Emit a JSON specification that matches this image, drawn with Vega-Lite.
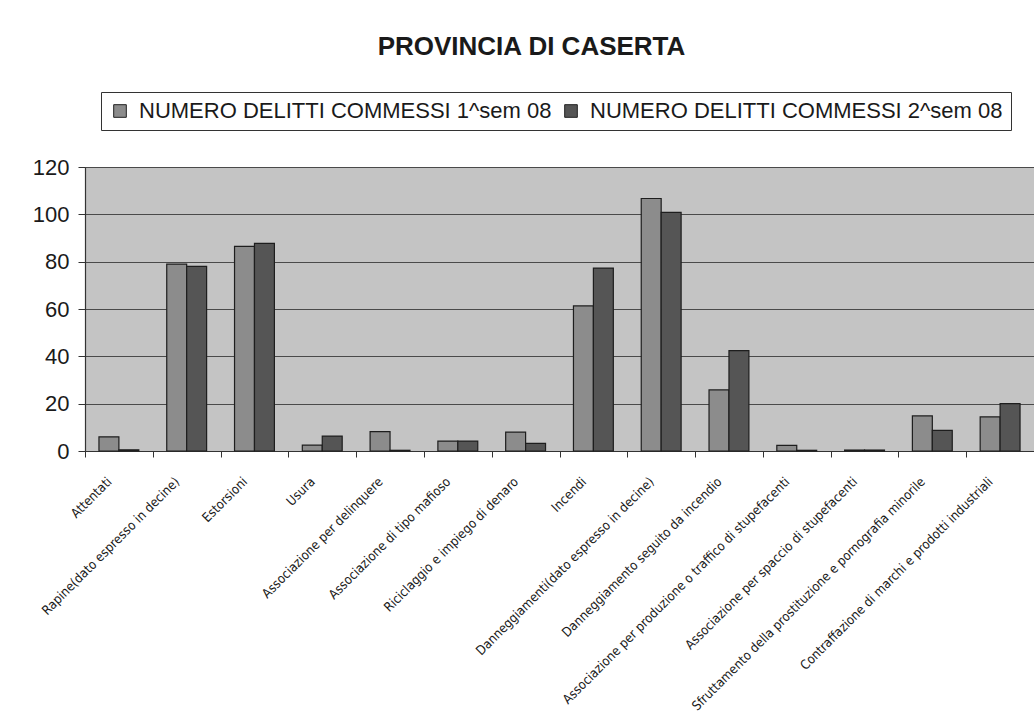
{
  "$schema": "https://vega.github.io/schema/vega-lite/v6.json",
  "autosize": "none",
  "width": 949,
  "height": 284,
  "padding": {"left": 85, "top": 167, "right": 0, "bottom": 273},
  "background": "white",
  "title": {
    "text": "PROVINCIA DI CASERTA",
    "font": "Liberation Sans",
    "fontSize": 26,
    "fontWeight": "bold",
    "color": "#1a1a1a",
    "anchor": "middle",
    "frame": "group",
    "dx": -28,
    "offset": 32
  },
  "data": {
    "values": [
      {"reato": "Attentati", "serie": "NUMERO DELITTI COMMESSI 1^sem 08", "valore": 6},
      {"reato": "Attentati", "serie": "NUMERO DELITTI COMMESSI 2^sem 08", "valore": 0.5},
      {"reato": "Rapine(dato espresso in decine)", "serie": "NUMERO DELITTI COMMESSI 1^sem 08", "valore": 79},
      {"reato": "Rapine(dato espresso in decine)", "serie": "NUMERO DELITTI COMMESSI 2^sem 08", "valore": 78},
      {"reato": "Estorsioni", "serie": "NUMERO DELITTI COMMESSI 1^sem 08", "valore": 86.5},
      {"reato": "Estorsioni", "serie": "NUMERO DELITTI COMMESSI 2^sem 08", "valore": 87.7},
      {"reato": "Usura", "serie": "NUMERO DELITTI COMMESSI 1^sem 08", "valore": 2.5},
      {"reato": "Usura", "serie": "NUMERO DELITTI COMMESSI 2^sem 08", "valore": 6.3},
      {"reato": "Associazione per delinquere", "serie": "NUMERO DELITTI COMMESSI 1^sem 08", "valore": 8.2},
      {"reato": "Associazione per delinquere", "serie": "NUMERO DELITTI COMMESSI 2^sem 08", "valore": 0.3},
      {"reato": "Associazione di tipo mafioso", "serie": "NUMERO DELITTI COMMESSI 1^sem 08", "valore": 4.2},
      {"reato": "Associazione di tipo mafioso", "serie": "NUMERO DELITTI COMMESSI 2^sem 08", "valore": 4.2},
      {"reato": "Riciclaggio e impiego di denaro", "serie": "NUMERO DELITTI COMMESSI 1^sem 08", "valore": 8},
      {"reato": "Riciclaggio e impiego di denaro", "serie": "NUMERO DELITTI COMMESSI 2^sem 08", "valore": 3.2},
      {"reato": "Incendi", "serie": "NUMERO DELITTI COMMESSI 1^sem 08", "valore": 61.3},
      {"reato": "Incendi", "serie": "NUMERO DELITTI COMMESSI 2^sem 08", "valore": 77.3},
      {"reato": "Danneggiamenti(dato espresso in decine)", "serie": "NUMERO DELITTI COMMESSI 1^sem 08", "valore": 106.7},
      {"reato": "Danneggiamenti(dato espresso in decine)", "serie": "NUMERO DELITTI COMMESSI 2^sem 08", "valore": 100.8},
      {"reato": "Danneggiamento seguito da incendio", "serie": "NUMERO DELITTI COMMESSI 1^sem 08", "valore": 25.8},
      {"reato": "Danneggiamento seguito da incendio", "serie": "NUMERO DELITTI COMMESSI 2^sem 08", "valore": 42.4},
      {"reato": "Associazione per produzione o traffico di stupefacenti", "serie": "NUMERO DELITTI COMMESSI 1^sem 08", "valore": 2.4},
      {"reato": "Associazione per produzione o traffico di stupefacenti", "serie": "NUMERO DELITTI COMMESSI 2^sem 08", "valore": 0.3},
      {"reato": "Associazione per spaccio di stupefacenti", "serie": "NUMERO DELITTI COMMESSI 1^sem 08", "valore": 0.4},
      {"reato": "Associazione per spaccio di stupefacenti", "serie": "NUMERO DELITTI COMMESSI 2^sem 08", "valore": 0.4},
      {"reato": "Sfruttamento della prostituzione e pornografia minorile", "serie": "NUMERO DELITTI COMMESSI 1^sem 08", "valore": 14.8},
      {"reato": "Sfruttamento della prostituzione e pornografia minorile", "serie": "NUMERO DELITTI COMMESSI 2^sem 08", "valore": 8.7},
      {"reato": "Contraffazione di marchi e prodotti industriali", "serie": "NUMERO DELITTI COMMESSI 1^sem 08", "valore": 14.4},
      {"reato": "Contraffazione di marchi e prodotti industriali", "serie": "NUMERO DELITTI COMMESSI 2^sem 08", "valore": 20}
    ]
  },
  "mark": {"type": "bar", "stroke": "#1e1e1e", "strokeWidth": 1.2},
  "encoding": {
    "x": {
      "field": "reato",
      "type": "nominal",
      "sort": null,
      "scale": {"paddingInner": 0, "paddingOuter": 0},
      "axis": {
        "title": null,
        "labelAngle": -45,
        "labelFont": "Liberation Sans Narrow, DejaVu Sans Condensed, sans-serif",
        "labelFontSize": 13,
        "labelColor": "#1a1a1a",
        "labelPadding": 18,
        "labelOffset": -14,
        "labelLimit": 400,
        "tickBand": "extent",
        "tickSize": 6,
        "tickColor": "#333",
        "domainColor": "#333",
        "domainWidth": 1.2,
        "grid": false
      }
    },
    "xOffset": {
      "field": "serie",
      "type": "nominal",
      "scale": {"paddingInner": 0, "paddingOuter": 0.7}
    },
    "y": {
      "field": "valore",
      "type": "quantitative",
      "scale": {"domain": [0, 120]},
      "axis": {
        "title": null,
        "values": [0, 20, 40, 60, 80, 100, 120],
        "labelFont": "Liberation Sans",
        "labelFontSize": 22,
        "labelColor": "#1a1a1a",
        "labelPadding": 9,
        "tickSize": 7,
        "tickColor": "#333",
        "domainColor": "#333",
        "domainWidth": 1.2,
        "grid": true,
        "gridColor": "#4a4a4a",
        "gridWidth": 1
      }
    },
    "color": {
      "field": "serie",
      "type": "nominal",
      "scale": {"range": ["#8c8c8c", "#555555"]},
      "legend": {
        "title": null,
        "orient": "none",
        "legendX": 16,
        "legendY": -75,
        "direction": "horizontal",
        "columns": 2,
        "columnPadding": 8,
        "symbolType": "square",
        "symbolSize": 160,
        "symbolStrokeColor": "#222",
        "symbolStrokeWidth": 1,
        "labelFont": "Liberation Sans",
        "labelFontSize": 22,
        "labelColor": "#1a1a1a",
        "labelOffset": 8,
        "labelLimit": 600,
        "strokeColor": "#333",
        "fillColor": "white",
        "padding": 8
      }
    }
  },
  "config": {
    "view": {"fill": "#c4c4c4", "stroke": "#555", "strokeWidth": 1}
  }
}
